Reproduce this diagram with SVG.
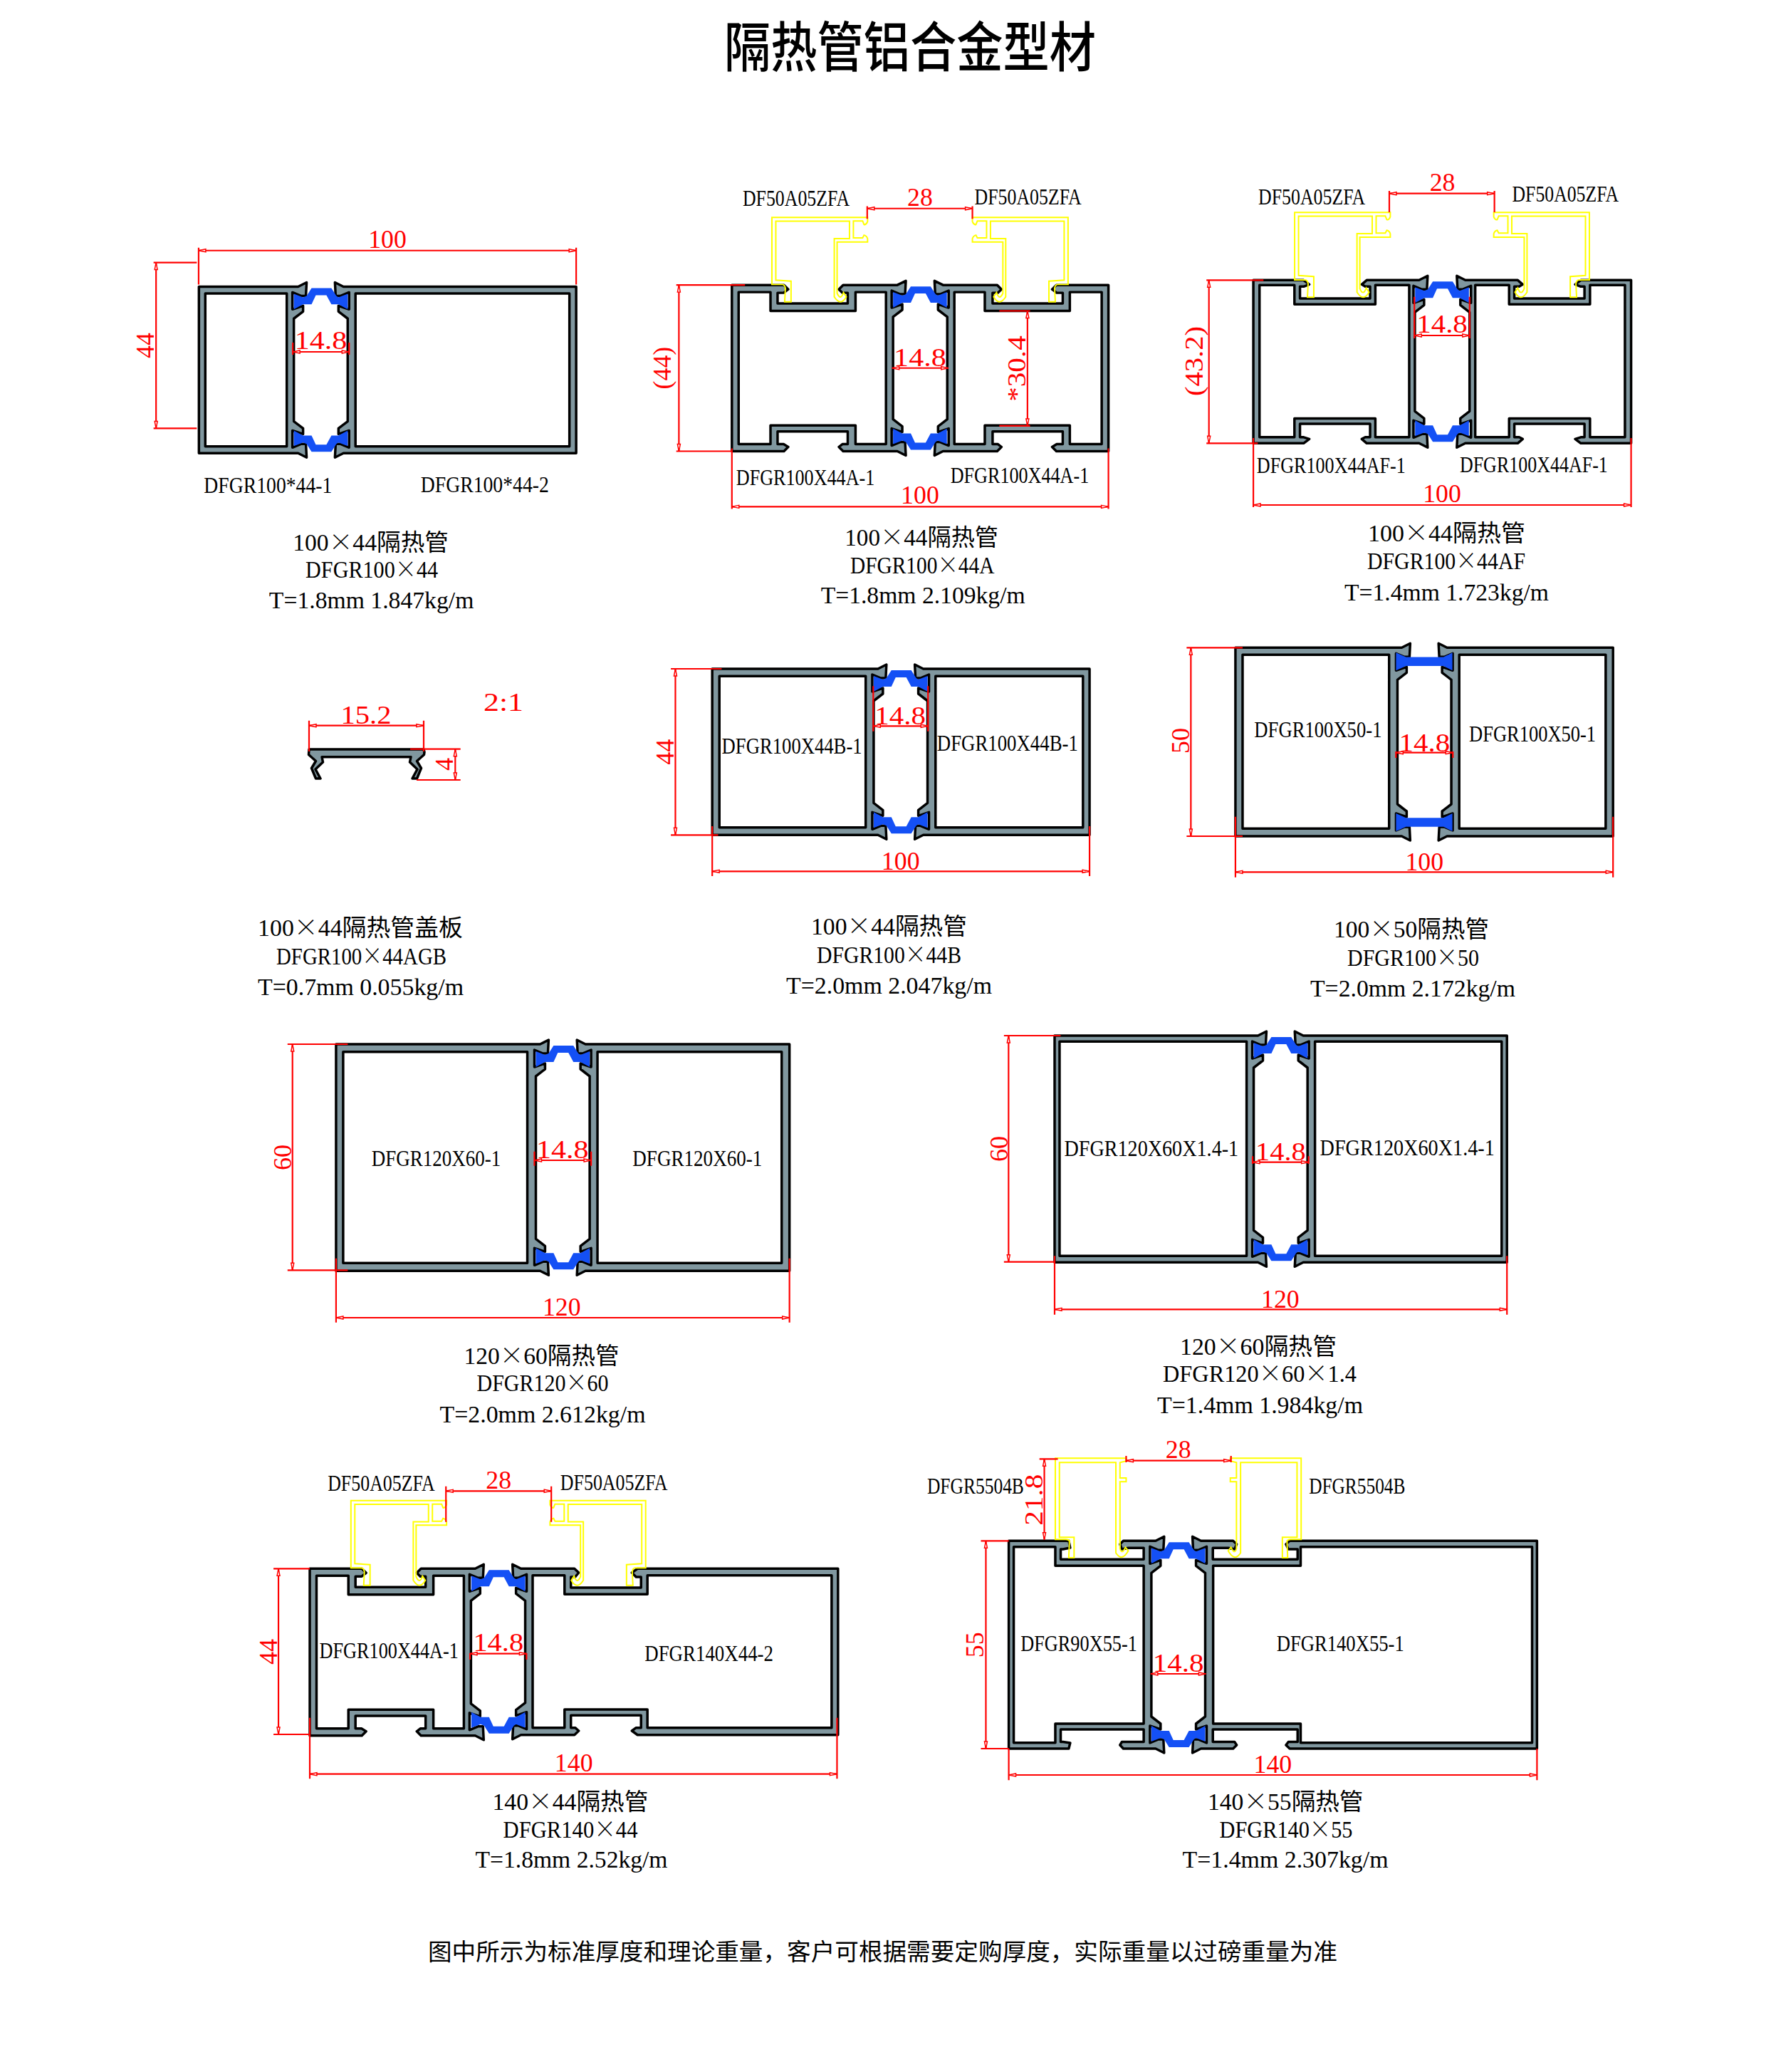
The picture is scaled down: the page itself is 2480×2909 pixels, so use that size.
<svg xmlns="http://www.w3.org/2000/svg" width="2480" height="2909" viewBox="0 0 2480 2909">
<style>
text{font-family:"Liberation Serif","Noto Sans CJK SC",serif;fill:#000}
.t{font-family:"Noto Sans CJK SC",sans-serif;font-size:76px;font-weight:500}
.f{font-family:"Noto Sans CJK SC",sans-serif;font-size:33px;font-weight:400}
.l{font-size:31px}
.c{font-size:33px}
.c .m{font-family:"Noto Sans CJK JP",sans-serif;font-size:33px;font-weight:300}
.c .z{font-family:"Noto Sans CJK SC",sans-serif}
.r{font-size:36px;fill:#f00;text-anchor:middle}
.p{fill:#80979f;fill-rule:evenodd;stroke:#000;stroke-width:3.5;stroke-linejoin:round}
.y{fill:none;stroke:#ff0;stroke-width:2}
.b{fill:#1450f5}
.d{fill:none;stroke:#f00;stroke-width:2.2;marker-start:url(#k);marker-end:url(#k)}
.e{fill:none;stroke:#f00;stroke-width:2.2}
</style>
<defs>
<marker id="k" markerUnits="userSpaceOnUse" markerWidth="14" markerHeight="8" refX="12" refY="4" orient="auto-start-reverse"><path d="M2,2 L12,4 L2,6 Z" fill="#fff" stroke="#f00" stroke-width="1.5"/></marker>
<path id="bt" class="b" d="M-38,10 L-25,15 L-20,13 L-13,2 H15 L22,13 L25,15 L38,10 V32 L25,25 H15 L8,12 H-7 L-13,25 H-25 L-38,32 Z"/>
<path id="bf" class="b" d="M-40,7 L-26,13.3 H27 L39.5,7 V32 L27,25.7 H-26 L-40,32 Z"/>
<path id="ya" class="y" d="M0,0 H135 V6 Q133,11 130,10 L128,5 H115 V29 H128 L130,25 Q134,26 135,30 V34.6 H92 V107 Q97,118 101,106 L105,112 Q97,126 88,112 V29.8 H109.5 V5.2 H5.5 V88.5 L27,90 V119 H18 L19,100 Q18,94.6 14.8,94.6 H0 Z"/>
<path id="yb" class="y" d="M0,0 H100 V4 L91.3,6 V27.7 H100 V33 H91.3 V127 Q94,136 99,125 L103,130 Q94,146 85.5,133 V6 H5.8 V111 H26.5 V139.7 H19 L20,116 Q18,114 15,114 H0 Z"/>
<path id="pa" class="p" d="M0,0 H73.5 L79.5,6 L73,11 H64.5 V26 H163.5 V11 H156 L151,6 L157,0 H233.5 l12,-6 l-1,19 h-7 l-12,-5 v24 l15,-5 v8 l-13,10 V189.5 l13,10 v8 l-15,-5 v24 l12,-5 h7 l1,19 l-12,-6 H157 L151,228.5 L156,224.5 H163.5 V206.6 H64.5 V224.5 H73 L79.5,228.5 L73.5,234.5 H0 Z M9.5,10 H54.5 V36.5 H174.5 V10 H217.5 V224.5 H174.5 V198 H54.5 V224.5 H9.5 Z"/>
<path id="pc" class="p" d="M0,0 H71 L79,6 L71,9 H65.8 V25.7 H164.8 V9 H158 L153,6 L160,0 H234 l12,-6 l-1,19 h-7 l-12,-5 v24 l15,-5 v8 l-13,10 V184 l13,10 v8 l-15,-5 v24 l12,-5 h7 l1,19 l-12,-6 H160 L153,223 L158,220.5 H164.8 V201.7 H65.8 V220.5 H71 L79,223 L71,229 H0 Z M8.7,7 H58 V34 H172.2 V7 H220 V220.5 H172.2 V194.3 H58 V220.5 H8.7 Z"/>
</defs>
<rect width="2480" height="2909" fill="#fff"/>
<text class="t" x="1017" y="94" textLength="522" lengthAdjust="spacingAndGlyphs">隔热管铝合金型材</text>

<g id="tube-100x44" transform="matrix(.9949 0 0 .9949 .77 1.53)">
<path class="p" d="M280,403 H420 l12,-6 l-1,19 h-7 l-12,-5 v24 l15,-5 v8 l-13,10 V593 l13,10 v8 l-15,-5 v24 l12,-5 h7 l1,19 l-12,-6 H280 Z M289,412.5 H404 V628.5 H289 Z"/>
<path class="p" d="M812.5,403 H484 l-12,-6 l1,19 h7 l12,-5 v24 l-15,-5 v8 l13,10 V593 l-13,10 v8 l15,-5 v24 l-12,-5 h-7 l-1,19 l12,-6 H812.5 Z M501,412.5 H803 V628.5 H501 Z"/>
<use href="#bt" transform="translate(452,403)"/><use href="#bt" transform="translate(452,638) scale(1,-1)"/>
<text class="l" x="287" y="694" textLength="181" lengthAdjust="spacingAndGlyphs">DFGR100*44-1</text>
<text class="l" x="593" y="693" textLength="181" lengthAdjust="spacingAndGlyphs">DFGR100*44-2</text>
<text class="c" x="412.5" y="775" textLength="220" lengthAdjust="spacingAndGlyphs">100<tspan class="m">×</tspan>44<tspan class="z">隔热管</tspan></text>
<text class="c" x="430.5" y="814" textLength="187" lengthAdjust="spacingAndGlyphs">DFGR100<tspan class="m">×</tspan>44</text>
<text class="c" x="379" y="856.5" textLength="289" lengthAdjust="spacingAndGlyphs">T=1.8mm 1.847kg/m</text>
</g>

<g id="tube-100x44a" transform="matrix(.9949 0 0 .9949 4.54 1.22)">
<use href="#pa" transform="translate(1028.5,401)"/>
<use href="#pa" transform="translate(1560,401) scale(-1,1)"/>
<use href="#bt" transform="translate(1294,401)"/><use href="#bt" transform="translate(1294,635.5) scale(1,-1)"/>
<use href="#ya" transform="translate(1085,305.6)"/><use href="#ya" transform="translate(1503,305.6) scale(-1,1)"/>
<text class="l" x="1043.7" y="289.7" textLength="151" lengthAdjust="spacingAndGlyphs">DF50A05ZFA</text>
<text class="l" x="1371" y="287.7" textLength="151" lengthAdjust="spacingAndGlyphs">DF50A05ZFA</text>
<text class="l" x="1034.5" y="683" textLength="195.5" lengthAdjust="spacingAndGlyphs">DFGR100X44A-1</text>
<text class="l" x="1337" y="680.4" textLength="195.5" lengthAdjust="spacingAndGlyphs">DFGR100X44A-1</text>
<text class="c" x="1187.7" y="768.6" textLength="217" lengthAdjust="spacingAndGlyphs">100<tspan class="m">×</tspan>44<tspan class="z">隔热管</tspan></text>
<text class="c" x="1195.5" y="808.4" textLength="203.5" lengthAdjust="spacingAndGlyphs">DFGR100<tspan class="m">×</tspan>44A</text>
<text class="c" x="1154" y="850" textLength="288.5" lengthAdjust="spacingAndGlyphs">T=1.8mm 2.109kg/m</text>
</g>

<g id="tube-100x44af">
<g transform="matrix(.9949 0 0 1 8.36 0)">
<use href="#pc" transform="translate(1760.7,393.3)"/>
<use href="#pc" transform="translate(2293.9,393.3) scale(-1,1)"/>
<use href="#bt" transform="translate(2027,393.3)"/><use href="#bt" transform="translate(2027,622.3) scale(1,-1)"/>
<use href="#ya" transform="translate(1819,298.3)"/><use href="#ya" transform="translate(2235,298.3) scale(-1,1)"/>
<text class="l" x="1767.7" y="286.7" textLength="151" lengthAdjust="spacingAndGlyphs">DF50A05ZFA</text>
<text class="l" x="2126" y="282.7" textLength="150.4" lengthAdjust="spacingAndGlyphs">DF50A05ZFA</text>
<text class="l" x="1765.5" y="664.3" textLength="210" lengthAdjust="spacingAndGlyphs">DFGR100X44AF-1</text>
<text class="l" x="2052" y="663.3" textLength="209" lengthAdjust="spacingAndGlyphs">DFGR100X44AF-1</text>
</g>
<text class="c" x="1921" y="760" textLength="221" lengthAdjust="spacingAndGlyphs">100<tspan class="m">×</tspan>44<tspan class="z">隔热管</tspan></text>
<text class="c" x="1920" y="799" textLength="222" lengthAdjust="spacingAndGlyphs">DFGR100<tspan class="m">×</tspan>44AF</text>
<text class="c" x="1888" y="843" textLength="287" lengthAdjust="spacingAndGlyphs">T=1.4mm 1.723kg/m</text>
</g>

<g id="cover-100x44agb">
<path class="p" d="M434,1052 H595 L596,1056 L595.5,1059.5 L585.5,1068.5 L591.5,1078.5 L585.5,1093 H579 L586,1080 L575.5,1070 L577,1062.7 H452 L453.5,1070 L443,1080 L450,1093 H443.5 L437.5,1078.5 L443.5,1068.5 L433.5,1059.5 Z"/>
<text class="r" x="707" y="997.7" textLength="56" lengthAdjust="spacingAndGlyphs">2:1</text>
<text class="c" x="362" y="1314" textLength="288" lengthAdjust="spacingAndGlyphs">100<tspan class="m">×</tspan>44<tspan class="z">隔热管盖板</tspan></text>
<text class="c" x="388" y="1354" textLength="239" lengthAdjust="spacingAndGlyphs">DFGR100<tspan class="m">×</tspan>44AGB</text>
<text class="c" x="362" y="1397" textLength="289" lengthAdjust="spacingAndGlyphs">T=0.7mm 0.055kg/m</text>
</g>

<g id="tube-100x44b">
<g transform="matrix(.9949 0 0 1 4.59 0)">
<path class="p" d="M1000.7,939 H1234.6 l12,-6 l-1,19 h-7 l-12,-5 v24 l15,-5 v8 l-13,10 V1127.3 l13,10 v8 l-15,-5 v24 l12,-5 h7 l1,19 l-12,-6 H1000.7 Z M1010.8,949.3 H1217.3 V1161.7 H1010.8 Z"/>
<path class="p" d="M1533.3,939 H1298.6 l-12,-6 l1,19 h7 l12,-5 v24 l-15,-5 v8 l13,10 V1127.3 l-13,10 v8 l15,-5 v24 l-12,-5 h-7 l-1,19 l12,-6 H1533.3 Z M1315.9,949.3 H1524 V1161.7 H1315.9 Z"/>
<use href="#bt" transform="translate(1266.6,939)"/><use href="#bt" transform="translate(1266.6,1172.3) scale(1,-1)"/>
<text class="l" x="1014.2" y="1058.3" textLength="198" lengthAdjust="spacingAndGlyphs">DFGR100X44B-1</text>
<text class="l" x="1318" y="1054.3" textLength="199" lengthAdjust="spacingAndGlyphs">DFGR100X44B-1</text>
</g>
<text class="c" x="1139" y="1312" textLength="219" lengthAdjust="spacingAndGlyphs">100<tspan class="m">×</tspan>44<tspan class="z">隔热管</tspan></text>
<text class="c" x="1147" y="1352" textLength="203" lengthAdjust="spacingAndGlyphs">DFGR100<tspan class="m">×</tspan>44B</text>
<text class="c" x="1104" y="1395" textLength="289" lengthAdjust="spacingAndGlyphs">T=2.0mm 2.047kg/m</text>
</g>

<g id="tube-100x50">
<g transform="matrix(.9949 0 0 1 8.87 0)">
<path class="p" d="M1734.9,909.3 H1969.6 l12,-6 l-1,19 h-7 l-12,-5 v24 l15,-5 v8 l-13,10 V1129 l13,10 v8 l-15,-5 v24 l12,-5 h7 l1,19 l-12,-6 H1734.9 Z M1745,919.3 H1951.8 V1163.3 H1745 Z"/>
<path class="p" d="M2267.9,909.3 H2033.6 l-12,-6 l1,19 h7 l12,-5 v24 l-15,-5 v8 l13,10 V1129 l-13,10 v8 l15,-5 v24 l-12,-5 h-7 l-1,19 l12,-6 H2267.9 Z M2050.8,919.3 H2257.5 V1163.3 H2050.8 Z"/>
<use href="#bf" transform="translate(2001.6,909.3)"/><use href="#bf" transform="translate(2001.6,1174) scale(1,-1)"/>
<text class="l" x="1761.5" y="1035" textLength="180" lengthAdjust="spacingAndGlyphs">DFGR100X50-1</text>
<text class="l" x="2064.7" y="1041" textLength="179" lengthAdjust="spacingAndGlyphs">DFGR100X50-1</text>
</g>
<text class="c" x="1873" y="1316" textLength="218" lengthAdjust="spacingAndGlyphs">100<tspan class="m">×</tspan>50<tspan class="z">隔热管</tspan></text>
<text class="c" x="1892" y="1356" textLength="185" lengthAdjust="spacingAndGlyphs">DFGR100<tspan class="m">×</tspan>50</text>
<text class="c" x="1840" y="1399" textLength="288" lengthAdjust="spacingAndGlyphs">T=2.0mm 2.172kg/m</text>
</g>

<g id="tube-120x60">
<g transform="matrix(.9949 0 0 1 1.84 0)">
<path class="p" d="M472.5,1466 H760.5 l12,-6 l-1,19 h-7 l-12,-5 v24 l15,-5 v8 l-13,10 V1739.3 l13,10 v8 l-15,-5 v24 l12,-5 h7 l1,19 l-12,-6 H472.5 Z M482.5,1476.7 H742.5 V1773.3 H482.5 Z"/>
<path class="p" d="M1112.5,1466 H824.5 l-12,-6 l1,19 h7 l12,-5 v24 l-15,-5 v8 l13,10 V1739.3 l-13,10 v8 l15,-5 v24 l-12,-5 h-7 l-1,19 l12,-6 H1112.5 Z M841.5,1476.7 H1101.5 V1773.3 H841.5 Z"/>
<use href="#bt" transform="translate(792.5,1466)"/><use href="#bt" transform="translate(792.5,1784.3) scale(1,-1)"/>
<text class="l" x="522.5" y="1636.7" textLength="182.5" lengthAdjust="spacingAndGlyphs">DFGR120X60-1</text>
<text class="l" x="891" y="1636.7" textLength="183" lengthAdjust="spacingAndGlyphs">DFGR120X60-1</text>
</g>
<text class="c" x="651.5" y="1915" textLength="218" lengthAdjust="spacingAndGlyphs">120<tspan class="m">×</tspan>60<tspan class="z">隔热管</tspan></text>
<text class="c" x="669.5" y="1953" textLength="185" lengthAdjust="spacingAndGlyphs">DFGR120<tspan class="m">×</tspan>60</text>
<text class="c" x="617.5" y="1997" textLength="289" lengthAdjust="spacingAndGlyphs">T=2.0mm 2.612kg/m</text>
</g>

<g id="tube-120x60x14">
<g transform="matrix(.9949 0 0 1 7.04 0)">
<path class="p" d="M1481.5,1454 H1768.5 l12,-6 l-1,19 h-7 l-12,-5 v24 l15,-5 v8 l-13,10 V1727.3 l13,10 v8 l-15,-5 v24 l12,-5 h7 l1,19 l-12,-6 H1481.5 Z M1488.5,1462.3 H1752.5 V1763.3 H1488.5 Z"/>
<path class="p" d="M2120,1454 H1832.5 l-12,-6 l1,19 h7 l12,-5 v24 l-15,-5 v8 l13,10 V1727.3 l-13,10 v8 l15,-5 v24 l-12,-5 h-7 l-1,19 l12,-6 H2120 Z M1849,1462.3 H2112.5 V1763.3 H1849 Z"/>
<use href="#bt" transform="translate(1800.5,1454)"/><use href="#bt" transform="translate(1800.5,1772.3) scale(1,-1)"/>
<text class="l" x="1495" y="1623.3" textLength="246" lengthAdjust="spacingAndGlyphs">DFGR120X60X1.4-1</text>
<text class="l" x="1856" y="1622.3" textLength="246.5" lengthAdjust="spacingAndGlyphs">DFGR120X60X1.4-1</text>
</g>
<text class="c" x="1657" y="1902" textLength="220" lengthAdjust="spacingAndGlyphs">120<tspan class="m">×</tspan>60<tspan class="z">隔热管</tspan></text>
<text class="c" x="1633" y="1940" textLength="272" lengthAdjust="spacingAndGlyphs">DFGR120<tspan class="m">×</tspan>60<tspan class="m">×</tspan>1.4</text>
<text class="c" x="1625" y="1984" textLength="289" lengthAdjust="spacingAndGlyphs">T=1.4mm 1.984kg/m</text>
</g>

<g id="tube-140x44">
<g transform="matrix(.9949 0 0 1 1.84 0)">
<use href="#pa" transform="translate(435.4,2202.3)"/>
<path class="p" d="M1181,2202.3 H898 L890,2208 L896,2214 H903 V2229 H804 V2214 H810 L815,2208 L809,2202.3 H733.5 l-12,-6 l1,19 h7 l12,-5 v24 l-15,-5 v8 l13,10 V2390.7 l-13,10 v8 l15,-5 v24 l-12,-5 h-7 l-1,19 l12,-6 H809 L815,2430 L810,2425.7 H804 V2408.3 H903 V2425.7 H896 L890,2430 L898,2435.7 H1181 Z M750,2211.7 H795 V2238.3 H912 V2211.7 H1172 V2425.7 H912 V2400 H795 V2425.7 H750 Z"/>
<use href="#bt" transform="translate(701.5,2202.3)"/><use href="#bt" transform="translate(701.5,2435.7) scale(1,-1)"/>
<use href="#ya" transform="translate(493.5,2106.7)"/><use href="#ya" transform="translate(909.5,2106.7) scale(-1,1)"/>
<text class="l" x="460.7" y="2093.3" textLength="151.3" lengthAdjust="spacingAndGlyphs">DF50A05ZFA</text>
<text class="l" x="789" y="2092.3" textLength="151.5" lengthAdjust="spacingAndGlyphs">DF50A05ZFA</text>
<text class="l" x="449" y="2328.3" textLength="196.4" lengthAdjust="spacingAndGlyphs">DFGR100X44A-1</text>
<text class="l" x="908" y="2332.3" textLength="181.7" lengthAdjust="spacingAndGlyphs">DFGR140X44-2</text>
</g>
<text class="c" x="691.5" y="2541" textLength="219" lengthAdjust="spacingAndGlyphs">140<tspan class="m">×</tspan>44<tspan class="z">隔热管</tspan></text>
<text class="c" x="706.5" y="2580" textLength="189" lengthAdjust="spacingAndGlyphs">DFGR140<tspan class="m">×</tspan>44</text>
<text class="c" x="667.5" y="2622" textLength="270" lengthAdjust="spacingAndGlyphs">T=1.8mm 2.52kg/m</text>
</g>

<g id="tube-140x55">
<g transform="matrix(.9949 0 0 1 6.53 0)">
<path class="p" d="M1417.3,2163.3 H1502 L1504,2173 L1494,2175 H1490.6 V2189.3 H1607.8 V2173.3 H1586 L1577,2175 L1574.3,2168 L1579,2163.3 H1624.6 l12,-6 l-1,19 h-7 l-12,-5 v24 l15,-5 v8 l-13,10 V2410 l13,10 v8 l-15,-5 v24 l12,-5 h7 l1,19 l-12,-6 H1579 L1574.3,2450 L1577,2445.5 H1607.8 V2428 H1490.6 V2445.5 H1494 L1504,2447 L1502,2455 H1417.3 Z M1424.3,2171.7 H1483 V2198.3 H1607.8 V2420 H1483 V2446.7 H1424.3 Z"/>
<path class="p" d="M2162.9,2163.3 H1813.8 L1808.6,2168 L1812,2175 H1825 V2189.3 H1705.4 V2173.3 H1727.4 L1736,2175 L1739,2168 L1734,2163.3 H1688.6 l-12,-6 l1,19 h7 l12,-5 v24 l-15,-5 v8 l13,10 V2410 l-13,10 v8 l15,-5 v24 l-12,-5 h-7 l-1,19 l12,-6 H1734 L1739,2450 L1736,2445.5 H1705.4 V2428 H1825 V2445.5 H1812 L1808.6,2450 L1813.8,2455 H2162.9 Z M2156,2171.7 V2446.7 H1829.3 V2420 H1705.8 V2198.3 H1829.3 V2171.7 Z"/>
<use href="#bt" transform="translate(1656.6,2163.3)"/><use href="#bt" transform="translate(1656.6,2455) scale(1,-1)"/>
<use href="#yb" transform="translate(1483,2047.3)"/><use href="#yb" transform="translate(1830,2047.3) scale(-1,1)"/>
<text class="l" x="1302" y="2096.7" textLength="136.7" lengthAdjust="spacingAndGlyphs">DFGR5504B</text>
<text class="l" x="1841" y="2096.7" textLength="136" lengthAdjust="spacingAndGlyphs">DFGR5504B</text>
<text class="l" x="1434" y="2317.7" textLength="164.5" lengthAdjust="spacingAndGlyphs">DFGR90X55-1</text>
<text class="l" x="1795.3" y="2317.7" textLength="180" lengthAdjust="spacingAndGlyphs">DFGR140X55-1</text>
</g>
<text class="c" x="1696" y="2541" textLength="218.5" lengthAdjust="spacingAndGlyphs">140<tspan class="m">×</tspan>55<tspan class="z">隔热管</tspan></text>
<text class="c" x="1712.5" y="2580" textLength="187" lengthAdjust="spacingAndGlyphs">DFGR140<tspan class="m">×</tspan>55</text>
<text class="c" x="1660.5" y="2622" textLength="289" lengthAdjust="spacingAndGlyphs">T=1.4mm 2.307kg/m</text>
</g>

<g id="connectors">
<g transform="matrix(.9949 0 0 .9949 .77 1.53)">
<path class="d" d="M279.6,352 H812.5"/><path class="d" d="M219.5,369 V603"/><path class="d" d="M412.5,495 H492"/>
<path class="e" d="M279.6,348 V400 M812.5,348 V400 M216,369 H277 M216,603 H277 M412.5,482 V499 M492,482 V499"/>
<text class="r" x="546" y="348.3">100</text>
<text class="r" transform="translate(216,486) rotate(-90)">44</text>
<text class="r" x="452" y="491.4" textLength="74" lengthAdjust="spacingAndGlyphs">14.8</text>
</g>
<g transform="matrix(.9949 0 0 .9949 4.54 1.22)">
<path class="d" d="M1219.5,293 H1368"/><path class="d" d="M953.7,401 V635.5"/><path class="d" d="M1254.6,518.2 H1334"/><path class="d" d="M1445.7,437.5 V599.7"/><path class="d" d="M1028.5,713.8 H1560"/>
<path class="e" d="M1219.5,289.7 V307.6 M1368,289.7 V307.6 M950,401 H1047 M950,635.5 H1028 M1406,437.5 H1449.4 M1406,599.7 H1449.4 M1028.5,631.5 V717 M1560,631.5 V717"/>
<text class="r" x="1294" y="289.7">28</text>
<text class="r" transform="translate(942,518) rotate(-90)" textLength="60" lengthAdjust="spacingAndGlyphs">(44)</text>
<text class="r" x="1294" y="515" textLength="74" lengthAdjust="spacingAndGlyphs">14.8</text>
<text class="r" transform="translate(1443,519) rotate(-90)" textLength="93" lengthAdjust="spacingAndGlyphs">*30.4</text>
<text class="r" x="1294" y="709.8">100</text>
</g>
<g transform="matrix(.9949 0 0 1 8.36 0)">
<path class="d" d="M1952.6,271.7 H2101"/><path class="d" d="M1698,393.3 V622.3"/><path class="d" d="M1988,471 H2066"/><path class="d" d="M1760.7,709 H2293.9"/>
<path class="e" d="M1952.6,268 V298 M2101,268 V298 M1694.5,393.3 H1775 M1694.5,622.3 H1767 M1988,416.7 V475 M2066,416.7 V475 M1760.7,615 V712 M2293.9,615 V712"/>
<text class="r" x="2027.6" y="268.3">28</text>
<text class="r" transform="translate(1689,507) rotate(-90)" textLength="98" lengthAdjust="spacingAndGlyphs">(43.2)</text>
<text class="r" x="2027" y="467.3" textLength="72" lengthAdjust="spacingAndGlyphs">14.8</text>
<text class="r" x="2027" y="705">100</text>
</g>
<g>
<path class="d" d="M434,1018.7 H595"/><path class="d" d="M639.3,1051.7 V1095"/>
<path class="e" d="M434,1011.7 V1055 M595,1011.7 V1055 M576,1051.7 H646.7 M585,1095 H646.7"/>
<text class="r" x="514" y="1016" textLength="71" lengthAdjust="spacingAndGlyphs">15.2</text>
<text class="r" transform="translate(636,1073) rotate(-90)">4</text>
</g>
<g transform="matrix(.9949 0 0 1 4.59 0)">
<path class="d" d="M948.7,939 V1172.3"/><path class="d" d="M1228,1019.3 H1305.3"/><path class="d" d="M1000.7,1223.3 H1533.3"/>
<path class="e" d="M942.3,939 H1014 M942.3,1172.3 H1009 M1228,963.3 V1026.7 M1305.3,963.3 V1026.7 M1000.7,1160 V1230 M1533.3,1160 V1230"/>
<text class="r" transform="translate(946,1055.7) rotate(-90)">44</text>
<text class="r" x="1266" y="1016.7" textLength="72" lengthAdjust="spacingAndGlyphs">14.8</text>
<text class="r" x="1266.6" y="1220.7">100</text>
</g>
<g transform="matrix(.9949 0 0 1 8.87 0)">
<path class="d" d="M1672,909.3 V1174"/><path class="d" d="M1961.5,1056.7 H2041.8"/><path class="d" d="M1734.9,1224.3 H2267.9"/>
<path class="e" d="M1666,909.3 H1745 M1666,1174 H1745 M1961.5,1055 V1064 M2041.8,1055 V1064 M1734.9,1146.7 V1231.7 M2267.9,1146.7 V1231.7"/>
<text class="r" transform="translate(1670,1040) rotate(-90)">50</text>
<text class="r" x="2001.7" y="1055" textLength="72" lengthAdjust="spacingAndGlyphs">14.8</text>
<text class="r" x="2001.6" y="1221.7">100</text>
</g>
<g transform="matrix(.9949 0 0 1 1.84 0)">
<path class="d" d="M411,1466 V1783.3"/><path class="d" d="M752.5,1629 H832.5"/><path class="d" d="M472.5,1850 H1112.5"/>
<path class="e" d="M404,1466 H489 M404,1783.3 H489 M752.5,1616.7 V1636.7 M832.5,1616.7 V1636.7 M472.5,1766.7 V1856.7 M1112.5,1766.7 V1856.7"/>
<text class="r" transform="translate(409,1625) rotate(-90)">60</text>
<text class="r" x="792" y="1626" textLength="74" lengthAdjust="spacingAndGlyphs">14.8</text>
<text class="r" x="791" y="1847.3">120</text>
</g>
<g transform="matrix(.9949 0 0 1 7.04 0)">
<path class="d" d="M1416.5,1454 V1771.7"/><path class="d" d="M1761,1631.7 H1840"/><path class="d" d="M1481.5,1838.3 H2120"/>
<path class="e" d="M1410,1454 H1490 M1410,1771.7 H1482 M1761,1623.3 V1634 M1840,1623.3 V1634 M1481.5,1763.3 V1845.7 M2120,1763.3 V1845.7"/>
<text class="r" transform="translate(1415,1613) rotate(-90)">60</text>
<text class="r" x="1800.5" y="1629" textLength="71" lengthAdjust="spacingAndGlyphs">14.8</text>
<text class="r" x="1800" y="1835.7">120</text>
</g>
<g transform="matrix(.9949 0 0 1 1.84 0)">
<path class="d" d="M627.6,2093.3 H776.3"/><path class="d" d="M391.2,2202.3 V2435"/><path class="d" d="M661.6,2321.7 H741.3"/><path class="d" d="M435.4,2490.7 H1179.6"/>
<path class="e" d="M627.6,2086.7 V2136.7 M776.3,2086.7 V2136.7 M384.2,2202.3 H435.4 M384.2,2435 H435.4 M741.3,2321 V2330 M661.6,2321 V2330 M435.4,2411.7 V2497.3 M1179.6,2411.7 V2497.3"/>
<text class="r" x="702" y="2090">28</text>
<text class="r" transform="translate(389,2319) rotate(-90)">44</text>
<text class="r" x="701.5" y="2318.3" textLength="71" lengthAdjust="spacingAndGlyphs">14.8</text>
<text class="r" x="808" y="2487.3">140</text>
</g>
<g transform="matrix(.9949 0 0 1 6.53 0)">
<path class="d" d="M1583,2050.7 H1731"/><path class="d" d="M1467.5,2048.3 V2161.7"/><path class="d" d="M1385,2163.3 V2455"/><path class="d" d="M1617.6,2350 H1695.5"/><path class="d" d="M1417.3,2492 H2162.9"/>
<path class="e" d="M1583,2044 V2053 M1731,2044 V2053 M1460.6,2048.3 H1486.6 M1378,2163.3 H1417.3 M1378,2455 H1417.3 M1417.3,2455 V2499.3 M2162.9,2455 V2499.3"/>
<text class="r" x="1656.6" y="2046.7">28</text>
<text class="r" transform="translate(1465,2105.8) rotate(-90)" textLength="72" lengthAdjust="spacingAndGlyphs">21.8</text>
<text class="r" transform="translate(1382,2309.3) rotate(-90)">55</text>
<text class="r" x="1656.5" y="2346.7" textLength="72" lengthAdjust="spacingAndGlyphs">14.8</text>
<text class="r" x="1790" y="2489.3">140</text>
</g>
</g>

<text class="f" x="601" y="2752" textLength="1277" lengthAdjust="spacingAndGlyphs">图中所示为标准厚度和理论重量，客户可根据需要定购厚度，实际重量以过磅重量为准</text>
</svg>
